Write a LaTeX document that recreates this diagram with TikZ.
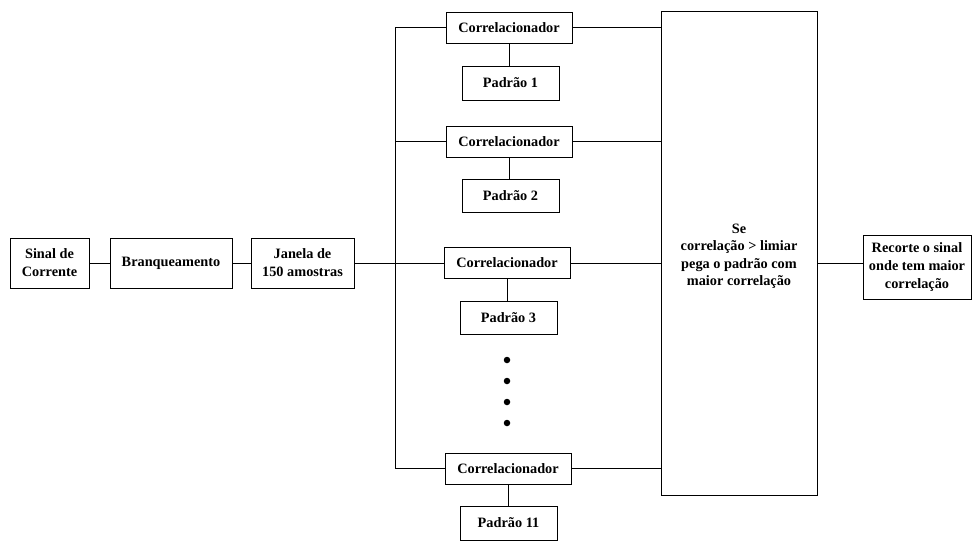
\documentclass[tikz,border=0pt]{standalone}
\usepackage{fontspec}
\setmainfont{Liberation Serif}
\begin{document}
\begin{tikzpicture}[x=1pt,y=-1pt,
  box/.style={draw,line width=0.9pt,inner sep=0pt,align=center,font=\fontsize{14.3}{18}\selectfont\bfseries},
  conn/.style={line width=0.9pt},
  dot/.style={circle,fill,inner sep=0pt,minimum size=6.5pt}]
\useasboundingbox (0,0) rectangle (973,541);
\node[box,minimum width=79pt,minimum height=50pt] (sinal) at (49.5,263) {Sinal de\\Corrente};
\node[box,minimum width=122pt,minimum height=50pt] (branq) at (171,263) {Branqueamento};
\node[box,minimum width=103pt,minimum height=50pt] (janela) at (302.5,263) {Janela de\\150 amostras};
\node[box,minimum width=126pt,minimum height=31pt] (c1) at (509,27.5) {Correlacionador};
\node[box,minimum width=97pt,minimum height=34pt] (p1) at (510.5,83) {Padrão 1};
\node[box,minimum width=126pt,minimum height=31pt] (c2) at (509,141.5) {Correlacionador};
\node[box,minimum width=97pt,minimum height=33pt] (p2) at (510.5,195.5) {Padrão 2};
\node[box,minimum width=126pt,minimum height=31pt] (c3) at (507,263) {Correlacionador};
\node[box,minimum width=97pt,minimum height=33pt] (p3) at (508.5,317.5) {Padrão 3};
\node[box,minimum width=126pt,minimum height=31pt] (c11) at (508,468.5) {Correlacionador};
\node[box,minimum width=97pt,minimum height=34pt] (p11) at (508.5,523) {Padrão 11};
\node[box,minimum width=156pt,minimum height=484pt] (big) at (739,253) {};
\node[align=center,font=\fontsize{14.3}{17.5}\selectfont\bfseries] (bigtxt) at (739,256) {Se\\correlação > limiar\\pega o padrão com\\maior correlação};
\node[box,minimum width=108pt,minimum height=64pt] (rec) at (917,267) {Recorte o sinal\\onde tem maior\\correlação};
\node[dot] (d1) at (507,360) {};
\node[dot] (d2) at (507,381) {};
\node[dot] (d3) at (507,402) {};
\node[dot] (d4) at (507,423) {};
\coordinate (bustop) at (395,27.5);
\coordinate (busbot) at (395,468.5);
\draw[conn] (sinal) -- (branq);
\draw[conn] (branq) -- (janela);
\draw[conn] (janela.east) -- (janela.east -| bustop);
\draw[conn] (c1.west) -- (bustop) -- (busbot) -- (c11.west);
\draw[conn] (c2.west) -- (c2.west -| bustop);
\draw[conn] (c3.west) -- (c3.west -| bustop);
\foreach \c/\p in {c1/p1,c2/p2,c3/p3,c11/p11}{
  \draw[conn] (\c.south) -- (\c.south |- \p.north);
  \draw[conn] (\c.east) -- (\c.east -| big.west);
}
\draw[conn] (big.east |- janela) -- (rec.west |- janela);
\end{tikzpicture}
\end{document}
